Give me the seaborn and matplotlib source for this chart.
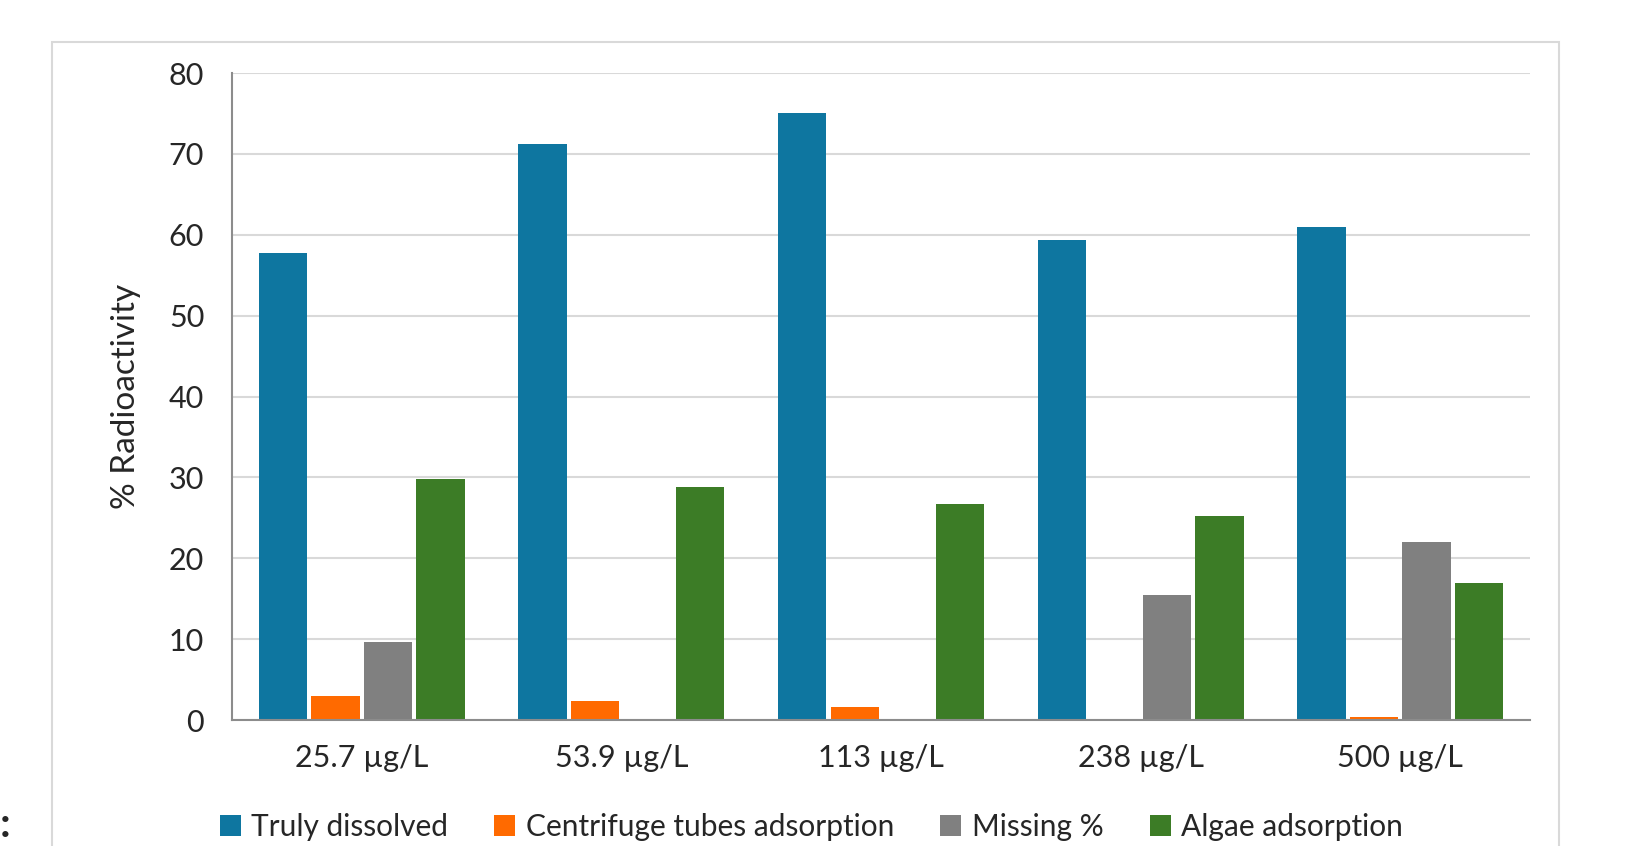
import pandas as pd
import seaborn as sns
import matplotlib.pyplot as plt
from matplotlib.patches import Rectangle

# values
concentrations = ["25.7 µg/L", "53.9 µg/L", "113 µg/L", "238 µg/L", "500 µg/L"]
fractions = ["Truly dissolved", "Centrifuge tubes adsorption", "Missing %", "Algae adsorption"]
truly_dissolved = [57.7, 71.2, 75.1, 59.4, 60.9]
tube_adsorption = [3.0, 2.3, 1.6, 0.0, 0.35]
missing = [9.6, 0.0, 0.0, 15.4, 22.0]
algae_adsorption = [29.8, 28.8, 26.7, 25.2, 16.9]
colors = ["#0E76A0", "#FF6A00", "#808080", "#3C7C26"]

df = pd.DataFrame({
    "conc": concentrations * 4,
    "fraction": [f for f in fractions for _ in concentrations],
    "value": truly_dissolved + tube_adsorption + missing + algae_adsorption,
})

sns.set_style("white")
plt.rcParams["font.family"] = ["Lato", "DejaVu Sans"]

fig = plt.figure(figsize=(16.36, 8.46), dpi=100)
ax = fig.add_axes([0.1418, 0.1489, 0.7934, 0.7648])

sns.barplot(data=df, x="conc", y="value", hue="fraction", hue_order=fractions,
            palette=colors, saturation=1, width=0.81, gap=0.08, linewidth=0,
            errorbar=None, ax=ax, legend=True)

ax.set_ylim(0, 80)
ax.set_xlim(-0.5, 4.5)
ax.set_yticks(range(0, 81, 10))
ax.yaxis.grid(True, color="#d9d9d9", linewidth=1.5)
ax.set_axisbelow(True)
ax.set_xlabel("")
ax.set_ylabel("% Radioactivity", fontsize=24, labelpad=20)
ax.tick_params(axis="y", labelsize=22, length=0, pad=20)
ax.tick_params(axis="x", labelsize=22, length=0, pad=17)

# category separator ticks on the x axis
ax.set_xticks([-0.5, 0.5, 1.5, 2.5, 3.5, 4.5], minor=True)
ax.tick_params(axis="x", which="minor", direction="in", length=10, width=1.5, color="#8c8c8c")

for side in ["top", "right"]:
    ax.spines[side].set_visible(False)
for side in ["left", "bottom"]:
    ax.spines[side].set_color("#8c8c8c")
    ax.spines[side].set_linewidth(1.5)

handles, labels = ax.get_legend_handles_labels()
ax.get_legend().remove()
fig.legend(handles, labels, loc="center", bbox_to_anchor=(0.496, 0.022), ncol=4,
           frameon=False, fontsize=21.5, handlelength=0.7, handleheight=0.7,
           handletextpad=0.35, columnspacing=1.55)

# outer chart frame
fig.patches.append(Rectangle((0.0318, -0.1), 0.921, 1.05, transform=fig.transFigure,
                             fill=False, edgecolor="#d9d9d9", linewidth=1.5))
fig.text(0.0, 0.025, ":", fontsize=30, fontweight="bold", va="center", ha="left")

fig.savefig("out.png", dpi=100)
